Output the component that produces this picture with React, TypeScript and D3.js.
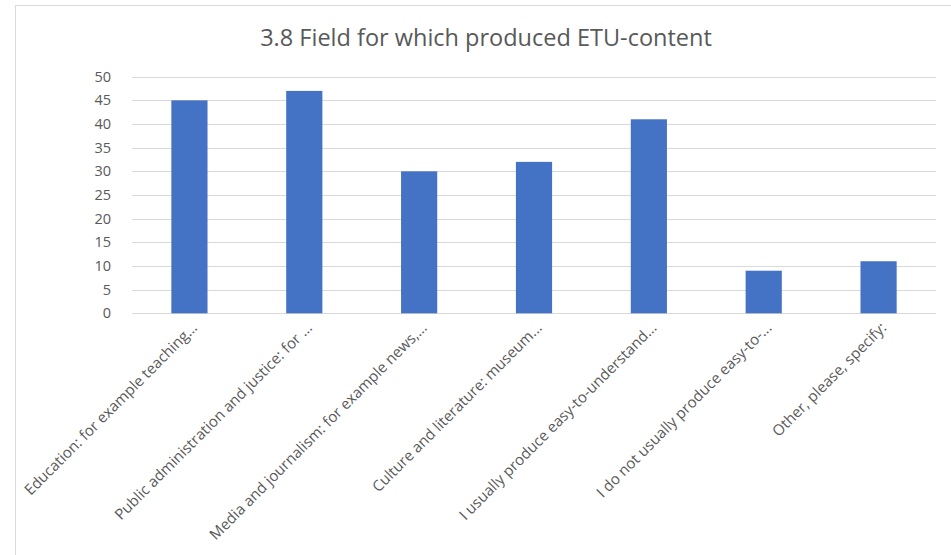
import React from "react";
import * as d3 from "d3";

const title = "3.8 Field for which produced ETU-content";
const categories = [
  "Education: for example teaching...",
  "Public administration and justice: for ...",
  "Media and journalism: for example news,...",
  "Culture and literature: museum...",
  "I usually produce easy-to-understand...",
  "I do not usually produce easy-to-...",
  "Other, please, specify:",
];
const values = [45, 47, 30, 32, 41, 9, 11];
const yTicks = [0, 5, 10, 15, 20, 25, 30, 35, 40, 45, 50];

const W = 951;
const H = 555;
const FONT = "'Open Sans', sans-serif";
const TEXT = "#595959";

export default function App() {
  const x = d3
    .scaleBand<string>()
    .domain(categories)
    .range([132, 936])
    .paddingInner(0.685)
    .paddingOuter(0.3425);
  const y = d3.scaleLinear().domain([0, 50]).range([313.3, 76.7]);

  return (
    <svg
      width={W}
      height={H}
      style={{ position: "absolute", left: 0, top: 0, background: "#fff" }}
      fontFamily={FONT}
    >
      <rect x={15.5} y={5.5} width={1000} height={700} fill="#fff" stroke="#d9d9d9" strokeWidth={1} />
      <text x={486} y={46} textAnchor="middle" fontSize={23.5} fill={TEXT}>
        {title}
      </text>
      {yTicks.map((t) => (
        <g key={t}>
          <line
            x1={132}
            x2={936}
            y1={Math.round(y(t)) + 0.5}
            y2={Math.round(y(t)) + 0.5}
            stroke="#d9d9d9"
            strokeWidth={1}
          />
          <text x={111} y={y(t)} dy="0.35em" textAnchor="end" fontSize={14.5} fill={TEXT}>
            {t}
          </text>
        </g>
      ))}
      {categories.map((c, i) => (
        <rect
          key={c}
          x={x(c)}
          y={y(values[i])}
          width={x.bandwidth()}
          height={y(0) - y(values[i])}
          fill="#4472C4"
        />
      ))}
      {categories.map((c) => {
        const cx = (x(c) as number) + x.bandwidth() / 2;
        return (
          <text
            key={c}
            transform={`translate(${cx + 5},${325}) rotate(-45)`}
            textAnchor="end"
            dy="0.35em"
            fontSize={15}
            fill={TEXT}
          >
            {c}
          </text>
        );
      })}
    </svg>
  );
}
